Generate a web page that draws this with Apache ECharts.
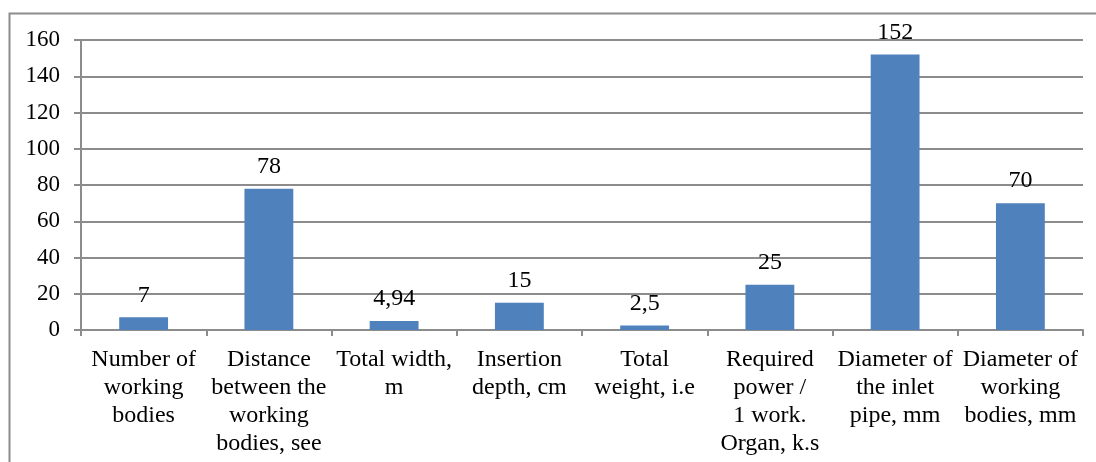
<!DOCTYPE html>
<html><head><meta charset="utf-8">
<script src="https://cdn.jsdelivr.net/npm/echarts@6/dist/echarts.min.js"></script>
<style>html,body{margin:0;padding:0;background:#fff}#c{width:1096px;height:462px}</style>
</head><body><div id="c"></div>
<script>
const categories = [
  "Number of\nworking\nbodies",
  "Distance\nbetween the\nworking\nbodies, see",
  "Total width,\nm",
  "Insertion\ndepth, cm",
  "Total\nweight, i.e",
  "Required\npower /\n1 work.\nOrgan, k.s",
  "Diameter of\nthe inlet\npipe, mm",
  "Diameter of\nworking\nbodies, mm"
];
const values = [7, 78, 4.94, 15, 2.5, 25, 152, 70];
const valueLabels = ["7", "78", "4,94", "15", "2,5", "25", "152", "70"];
const yTicks = [0, 20, 40, 60, 80, 100, 120, 140, 160];

const chart = echarts.init(document.getElementById('c'));
const font = "'Liberation Serif', 'Times New Roman', serif";
chart.setOption({
  animation: false,
  graphic: [{
    type: 'rect', shape: {x: 9.5, y: 13.5, width: 1200, height: 600},
    style: {fill: 'none', stroke: '#8c8c8c', lineWidth: 2}, silent: true, z: -1
  }],
  grid: {left: 81, right: 13, top: 40, bottom: 132},
  xAxis: {
    type: 'category', data: categories,
    axisLine: {lineStyle: {color: '#8c8c8c', width: 2}},
    axisTick: {show: true, alignWithLabel: false, length: 6, lineStyle: {color: '#8c8c8c', width: 2}},
    axisLabel: {color: '#000', fontFamily: font, fontSize: 24, lineHeight: 28, margin: 16, interval: 0, align: 'center'}
  },
  yAxis: {
    type: 'value', min: yTicks[0], max: yTicks[yTicks.length - 1], interval: 20,
    axisLine: {show: true, lineStyle: {color: '#8c8c8c', width: 2}},
    axisTick: {show: true, length: 7, lineStyle: {color: '#8c8c8c', width: 2}},
    splitLine: {lineStyle: {color: '#8c8c8c', width: 2}},
    axisLabel: {color: '#000', fontFamily: font, fontSize: 23, margin: 21}
  },
  series: [{
    type: 'bar', data: values, barWidth: '39%',
    itemStyle: {color: '#4f81bd'},
    label: {
      show: true, position: 'top', distance: 10, color: '#000', fontFamily: font, fontSize: 24,
      formatter: p => valueLabels[p.dataIndex]
    }
  }]
});
</script></body></html>
